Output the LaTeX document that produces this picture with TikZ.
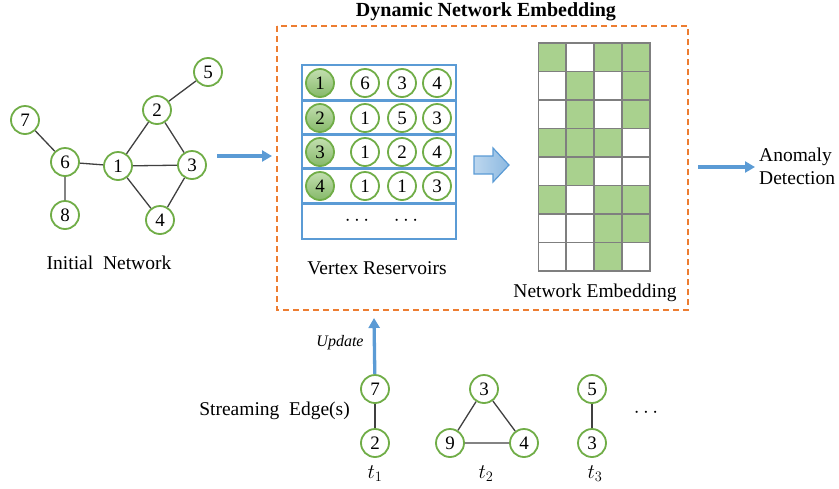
\documentclass[tikz,border=0pt]{standalone}
\usepackage{fontspec}
\setmainfont{Liberation Serif}
\usetikzlibrary{arrows.meta}
\definecolor{cgreen}{HTML}{70AD47}
\definecolor{cfill}{HTML}{A9D18E}
\definecolor{cdark}{HTML}{86B96A}
\definecolor{cblue}{HTML}{5B9BD5}
\definecolor{clblue}{HTML}{BDD7EE}
\definecolor{corange}{HTML}{ED7D31}
\definecolor{cgray}{HTML}{7F7F7F}
\definecolor{cedge}{HTML}{404040}
\begin{document}
\begin{tikzpicture}[x=1pt,y=-1pt,
  vtx/.style={circle,draw=cgreen,line width=1.8pt,minimum size=28pt,inner sep=0pt,fill=white,font=\fontsize{19}{19}\selectfont},
  hvtx/.style={vtx,top color=cfill!70!white,bottom color=cdark},
  edge/.style={draw=cedge,line width=1.3pt},
  barrow/.style={draw=cblue,line width=3.3pt,-{Triangle[length=10pt,width=11pt]}},
  lbl/.style={font=\fontsize{19.5}{23}\selectfont,inner sep=0pt},
  rowbox/.style={draw=cblue,line width=1.8pt}]
\useasboundingbox (0,0) rectangle (839,488);

% Initial network
\node[vtx] (n5) at (208,72) {5};
\node[vtx] (n2) at (157,110) {2};
\node[vtx] (n7) at (25,120) {7};
\node[vtx] (n6) at (65,162) {6};
\node[vtx] (n1) at (118,166) {1};
\node[vtx] (n3) at (192,165) {3};
\node[vtx] (n8) at (65,215) {8};
\node[vtx] (n4) at (160,220) {4};
\draw[edge] (n5)--(n2) (n2)--(n1) (n2)--(n3) (n7)--(n6) (n6)--(n1) (n1)--(n3) (n1)--(n4) (n3)--(n4) (n6)--(n8);
\node[lbl] (initlbl) at (109,263) {Initial\ \ Network};

\coordinate (a1s) at (217,156);
\coordinate (a1e) at (272,156);
\draw[barrow] (a1s)--(a1e);

% Dashed frame
\node[lbl,font=\fontsize{20}{20}\selectfont\bfseries] (title) at (486,12) {Dynamic Network Embedding};
\draw[corange,line width=1.5pt,dash pattern=on 6pt off 4pt] (277,26) rectangle (688,310);

% Vertex reservoirs
\draw[rowbox] (302,65) rectangle (456,100);
\draw[rowbox] (302,101.5) rectangle (456,134);
\draw[rowbox] (302,135.5) rectangle (456,168);
\draw[rowbox] (302,169.5) rectangle (456,202.5);
\draw[rowbox] (302,204) rectangle (456,239);
\foreach \i/\y/\a/\b/\c in {1/83/6/3/4, 2/118/1/5/3, 3/152/1/2/4, 4/186/1/1/3}{
  \node[hvtx] (h\i) at (320,\y) {\i};
  \node[vtx] (r\i a) at (365,\y) {\a};
  \node[vtx] (r\i b) at (402,\y) {\b};
  \node[vtx] (r\i c) at (437,\y) {\c};
}
\node[lbl] (dots1) at (357,221) {$\cdots$};
\node[lbl] (dots2) at (406,221) {$\cdots$};
\node[lbl] (vrlbl) at (377,268) {Vertex Reservoirs};

% Block arrow
\shade[left color=clblue,right color=cblue!70!white,draw=cblue,line width=1.2pt]
  (474,156) -- (493,156) -- (493,148) -- (509,165) -- (493,182) -- (493,174) -- (474,174) -- cycle;

% Embedding grid
\foreach \c/\r in {0/0,2/0,3/0, 1/1,3/1, 1/2,3/2, 0/3,1/3,2/3, 1/4, 0/5,2/5,3/5, 2/6,3/6, 2/7}{
  \fill[cfill] (538.5+\c*27.875,43+\r*28.5) rectangle ++(27.875,28.5);
}
\foreach \c in {1,2,3}{
  \draw[cgray,line width=1.8pt] (538.5+\c*27.875,43) -- (538.5+\c*27.875,271);
}
\foreach \r in {1,...,7}{
  \draw[cgray,line width=1.8pt] (538.5,43+\r*28.5) -- (650,43+\r*28.5);
}
\draw[cgray,line width=1.8pt] (538.5,43) rectangle (650,271);
\node[lbl] (nelbl) at (595,293) {Network Embedding};

% Anomaly detection
\coordinate (a2s) at (698,167);
\coordinate (a2e) at (755,167);
\draw[barrow] (a2s)--(a2e);
\node[lbl,align=left,anchor=west] (anom) at (759,166) {Anomaly\\Detection};

% Streaming edges
\node[vtx] (s7) at (375,389) {7};
\node[vtx] (s2) at (375,443) {2};
\draw[edge] (s7)--(s2);
\node[vtx] (t3) at (484,389) {3};
\node[vtx] (t9) at (450,443) {9};
\node[vtx] (t4) at (524,443) {4};
\draw[edge] (t3)--(t9) (t9)--(t4) (t4)--(t3);
\node[vtx] (u5) at (592,389) {5};
\node[vtx] (u3) at (592,443) {3};
\draw[edge] (u5)--(u3);
\node[lbl] (sdots) at (646,413) {$\cdots$};
\node[lbl,anchor=east] (stream) at (350,411) {Streaming\ \ Edge(s)};
\node[lbl,font=\fontsize{21}{21}\selectfont] (t1) at (375,474) {$t_1$};
\node[lbl,font=\fontsize{21}{21}\selectfont] (t2) at (486,474) {$t_2$};
\node[lbl,font=\fontsize{21}{21}\selectfont] (t3l) at (595,474) {$t_3$};

\coordinate (upd) at (374,318);
\draw[barrow] (s7) -- (upd);
\node[lbl,font=\fontsize{16}{16}\selectfont\itshape] (updlbl) at (340,343) {Update};
\end{tikzpicture}
\end{document}
